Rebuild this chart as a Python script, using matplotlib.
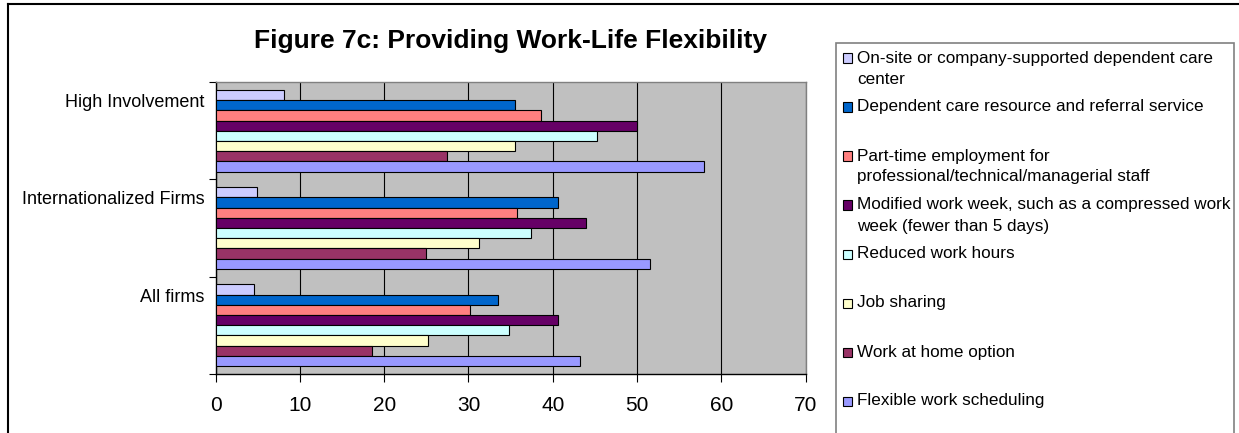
import matplotlib.pyplot as plt
from matplotlib.patches import Rectangle
from matplotlib.lines import Line2D
import numpy as np

plt.rcParams['font.family'] = ['Liberation Sans', 'DejaVu Sans']

W, H = 1239, 433

categories = ['All firms', 'Internationalized Firms', 'High Involvement']

# legend order (top to bottom)
series = [
    'On-site or company-supported dependent care\ncenter',
    'Dependent care resource and referral service',
    'Part-time employment for\nprofessional/technical/managerial staff',
    'Modified work week, such as a compressed work\nweek (fewer than 5 days)',
    'Reduced work hours',
    'Job sharing',
    'Work at home option',
    'Flexible work scheduling',
]
colors = ['#CCCCFF', '#0066CC', '#FF8080', '#660066',
          '#CCFFFF', '#FFFFCC', '#993366', '#9999FF']

# values per series: All firms, Internationalized, High Involvement
onsite = [4.5, 4.9, 8.1]
dependent = [33.5, 40.6, 35.5]
parttime = [30.2, 35.8, 38.6]
modified = [40.6, 43.9, 50.0]
reduced = [34.8, 37.4, 45.2]
jobshare = [25.2, 31.3, 35.5]
homework = [18.6, 25.0, 27.4]
flexible = [43.2, 51.6, 58.0]
values = [onsite, dependent, parttime, modified, reduced, jobshare, homework, flexible]

fig = plt.figure(figsize=(W / 100, H / 100), dpi=100)
ax = fig.add_axes([215.7 / W, 1 - 373.8 / H, (805.5 - 215.7) / W, (373.8 - 82.3) / H])
ax.set_facecolor('#C0C0C0')

h = 0.105
n = len(series)
y = np.arange(len(categories))
for k in range(n):
    j = n - 1 - k  # position from bottom
    pos = y - n * h / 2 + h * (j + 0.5)
    ax.barh(pos, values[k], height=h, color=colors[k], edgecolor='black',
            linewidth=0.8, zorder=3)

ax.set_xlim(0, 70)
ax.set_ylim(-0.5, 2.5)
ax.set_xticks(np.arange(0, 71, 10))
ax.tick_params(axis='x', direction='out', length=6, width=0.8, labelsize=15, pad=10)
ax.xaxis.grid(True, color='black', linewidth=0.8, zorder=1)

ax.set_yticks(y + 0.31)
ax.set_yticklabels(categories, fontsize=13)
ax.set_yticks(np.arange(-0.5, 2.6, 1), minor=True)
ax.tick_params(axis='y', which='major', length=0, pad=8)
ax.tick_params(axis='y', which='minor', direction='out', length=5, width=0.8)

for s in ['top', 'right']:
    ax.spines[s].set_color('#808080')
    ax.spines[s].set_linewidth(1)
for s in ['left', 'bottom']:
    ax.spines[s].set_color('black')
    ax.spines[s].set_linewidth(1)

fig.text(510 / W, 1 - 41 / H, 'Figure 7c: Providing Work-Life Flexibility',
         ha='center', va='center', fontsize=19, fontweight='bold')

# outer frame
fig.add_artist(Line2D([8 / W, 8 / W], [0, 1 - 4 / H], color='black', linewidth=1.5,
                      transform=fig.transFigure))
fig.add_artist(Line2D([8 / W, 1], [1 - 4 / H, 1 - 4 / H], color='black', linewidth=1.5,
                      transform=fig.transFigure))

# legend box drawn by hand (Excel-style even spacing)
fig.add_artist(Rectangle((836 / W, -0.01), (1234 - 836) / W, 1 - 43 / H + 0.01,
                         transform=fig.transFigure, facecolor='white',
                         edgecolor='#808080', linewidth=1.2))
for k, lab in enumerate(series):
    yc = 58 + 49 * k
    fig.add_artist(Rectangle((842.5 / W, 1 - (yc + 4.5) / H), 9 / W, 9 / H,
                             transform=fig.transFigure, facecolor=colors[k],
                             edgecolor='black', linewidth=0.8))
    for m, line in enumerate(lab.split('\n')):
        fig.text(857 / W, 1 - (yc + 21 * m) / H, line, ha='left', va='center',
                 fontsize=12.3)

fig.savefig('out.png', dpi=100)
